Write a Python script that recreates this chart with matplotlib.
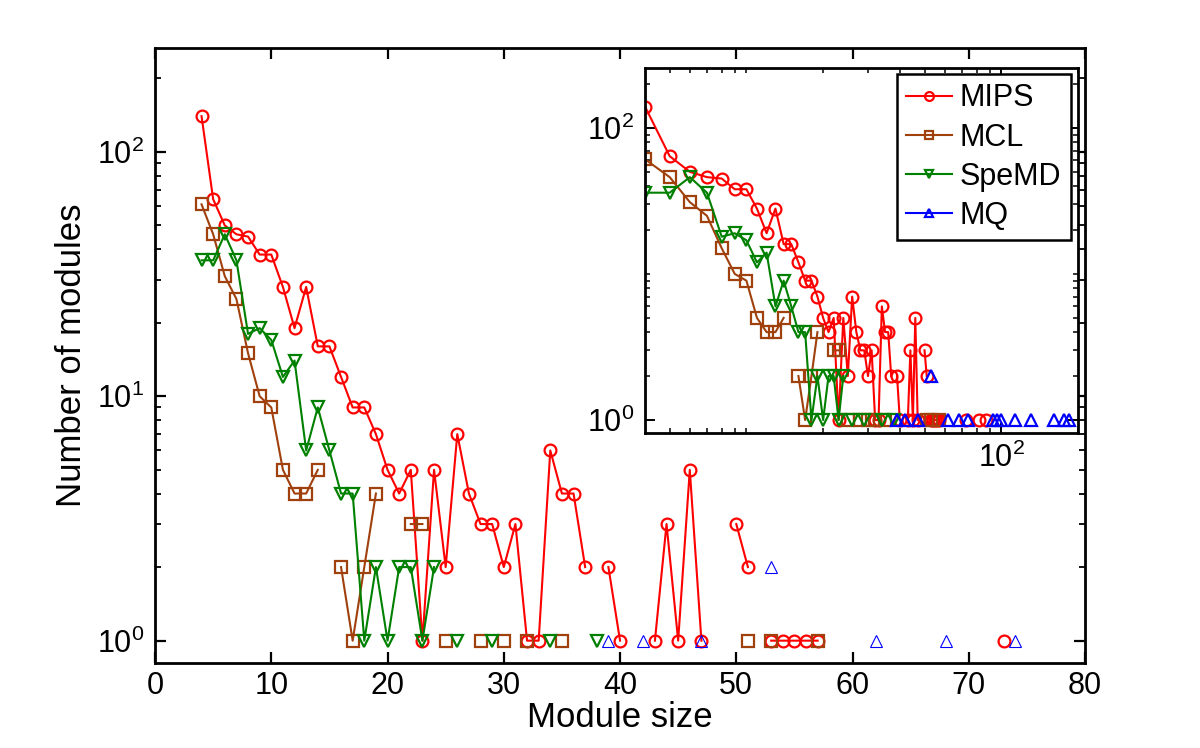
import numpy as np
import matplotlib
matplotlib.use('Agg')
import matplotlib.pyplot as plt
from matplotlib.ticker import FixedLocator, NullFormatter, FixedFormatter

plt.rcParams['font.family'] = ['Liberation Sans', 'DejaVu Sans']
plt.rcParams['mathtext.fontset'] = 'custom'
plt.rcParams['mathtext.rm'] = 'Liberation Sans'
plt.rcParams['mathtext.it'] = 'Liberation Sans:italic'
plt.rcParams['mathtext.bf'] = 'Liberation Sans:bold'

# ---------------- data (module size -> number of modules, nonzero only) -------------
mips_size = [4, 5, 6, 7, 8, 9, 10, 11, 12, 13, 14, 15, 16, 17, 18, 19, 20, 21, 22, 23,
             24, 25, 26, 27, 28, 29, 30, 31, 32, 33, 34, 35, 36, 37, 39, 40, 43, 44, 45,
             46, 47, 50, 51, 53, 54, 55, 56, 57, 73, 82, 87]
mips_count = [140, 64, 50, 46, 45, 38, 38, 28, 19, 28, 16, 16, 12, 9, 9, 7, 5, 4, 5, 1,
              5, 2, 7, 4, 3, 3, 2, 3, 1, 1, 6, 4, 4, 2, 2, 1, 1, 3, 1,
              5, 1, 3, 2, 1, 1, 1, 1, 1, 1, 1, 1]

mcl_size = [4, 5, 6, 7, 8, 9, 10, 11, 12, 13, 14, 16, 17, 18, 19, 22, 23, 25, 28, 30,
            32, 35, 51, 53, 57]
mcl_count = [61, 46, 31, 25, 15, 10, 9, 5, 4, 4, 5, 2, 1, 2, 4, 3, 3, 1, 1, 1,
             1, 1, 1, 1, 1]

spemd_size = [4, 5, 6, 7, 8, 9, 10, 11, 12, 13, 14, 15, 16, 17, 18, 19, 20, 21, 22, 23,
              24, 26, 29, 34, 38]
spemd_count = [36, 36, 46, 36, 18, 19, 17, 12, 14, 6, 9, 6, 4, 4, 1, 2, 1, 2, 2, 1,
               2, 1, 1, 1, 1]

mq_size = [39, 42, 47, 53, 62, 68, 74, 93, 96, 100, 113, 131, 161, 176, 185]
mq_count = [1, 1, 1, 2, 1, 1, 1, 1, 1, 1, 1, 1, 1, 1, 1]

series_names = ['MIPS', 'MCL', 'SpeMD', 'MQ']
series_colors = ['#FF0000', '#A0400C', '#008000', '#0000FF']
series_markers = ['o', 's', 'v', '^']
series_data = [(mips_size, mips_count), (mcl_size, mcl_count),
               (spemd_size, spemd_count), (mq_size, mq_count)]

x_ticks_main = [0, 10, 20, 30, 40, 50, 60, 70, 80]
y_ticks = [1, 10, 100]
y_ticklabels = ['$10^{0}$', '$10^{1}$', '$10^{2}$']

FS = 22
FS_LABEL = 25


def with_gaps(sizes, counts):
    """Break the line where a module size has no modules (zero count)."""
    xs, ys = [], []
    prev = None
    for s, c in zip(sizes, counts):
        if prev is not None and s - prev > 1:
            xs.append(np.nan)
            ys.append(np.nan)
        xs.append(s)
        ys.append(c)
        prev = s
    return np.array(xs, float), np.array(ys, float)


def minor_log(lo_dec, hi_dec):
    out = []
    for d in range(lo_dec, hi_dec + 1):
        for m in range(2, 10):
            out.append(m * 10.0 ** d)
    return out


fig = plt.figure(figsize=(12, 7.48), dpi=100)

# ---------------- main axes ----------------
ax = fig.add_axes([0.1292, 0.1136, 0.7750, 0.8222])
ax.set_yscale('log')
for (sz, ct), name, col, mk in zip(series_data, series_names, series_colors, series_markers):
    xs, ys = with_gaps(sz, ct)
    if name == 'MQ':
        ax.plot(xs, ys, color=col, marker=mk, markersize=8.5, mfc='none', mew=0.8, lw=1.0,
                label=name)
    else:
        ax.plot(xs, ys, color=col, marker=mk, markersize=8.5, mfc='none', mew=1.6, lw=1.5,
                label=name)

ax.set_xlim(0, 80)
ax.set_ylim(0.81, 266)
ax.xaxis.set_major_locator(FixedLocator(x_ticks_main))
ax.yaxis.set_major_locator(FixedLocator(y_ticks))
ax.yaxis.set_major_formatter(FixedFormatter(y_ticklabels))
ax.yaxis.set_minor_locator(FixedLocator(minor_log(0, 2)))
ax.yaxis.set_minor_formatter(NullFormatter())
ax.tick_params(which='both', direction='in', top=True, right=True, labelsize=FS)
ax.tick_params(which='major', length=8, width=1.6)
ax.tick_params(which='minor', length=4.5, width=1.3)
ax.tick_params(axis='x', pad=6)
ax.tick_params(axis='y', pad=8)
for sp in ax.spines.values():
    sp.set_linewidth(2.0)
ax.set_xlabel('Module size', fontsize=FS_LABEL, labelpad=0)
ax.set_ylabel('Number of modules', fontsize=FS_LABEL, labelpad=6)

# ---------------- inset axes (log-log) ----------------
ins = fig.add_axes([0.5375, 0.4211, 0.3608, 0.4880])
ins.set_xscale('log')
ins.set_yscale('log')
handles = []
for (sz, ct), name, col, mk in zip(series_data, series_names, series_colors, series_markers):
    xs, ys = with_gaps(sz, ct)
    h, = ins.plot(xs, ys, color=col, marker=mk, markersize=8.5, mfc='none', mew=1.6, lw=1.5,
                  label=name)
    handles.append(h)
ins.set_xlim(4, 200)
ins.set_ylim(0.815, 257)
ins.xaxis.set_major_locator(FixedLocator([100]))
ins.xaxis.set_major_formatter(FixedFormatter(['$10^{2}$']))
ins.xaxis.set_minor_locator(FixedLocator([5, 6, 7, 8, 9, 10, 20, 30, 40, 50, 60, 70, 80, 90, 200]))
ins.xaxis.set_minor_formatter(NullFormatter())
ins.yaxis.set_major_locator(FixedLocator([1, 100]))
ins.yaxis.set_major_formatter(FixedFormatter(['$10^{0}$', '$10^{2}$']))
ins.yaxis.set_minor_locator(FixedLocator([m for m in minor_log(0, 2) if m != 100] + [10]))
ins.yaxis.set_minor_formatter(NullFormatter())
ins.tick_params(which='both', direction='in', top=True, right=True, labelsize=FS)
ins.tick_params(which='major', length=7, width=1.4)
ins.tick_params(which='minor', length=3.5, width=1.1)
ins.tick_params(axis='x', pad=7)
ins.tick_params(axis='y', pad=8)
for sp in ins.spines.values():
    sp.set_linewidth(2.0)

leg = ins.legend(handles=handles, loc='upper right', bbox_to_anchor=(0.983, 0.983),
                 fontsize=FS, frameon=True, fancybox=False, shadow=False,
                 handlelength=1.5, handletextpad=0.25, labelspacing=0.3,
                 borderpad=0.3, borderaxespad=0.0, markerscale=0.75)
leg.get_frame().set_edgecolor('black')
leg.get_frame().set_linewidth(1.8)
leg.get_frame().set_alpha(1)

fig.savefig('out.png', dpi=100, facecolor='white')
